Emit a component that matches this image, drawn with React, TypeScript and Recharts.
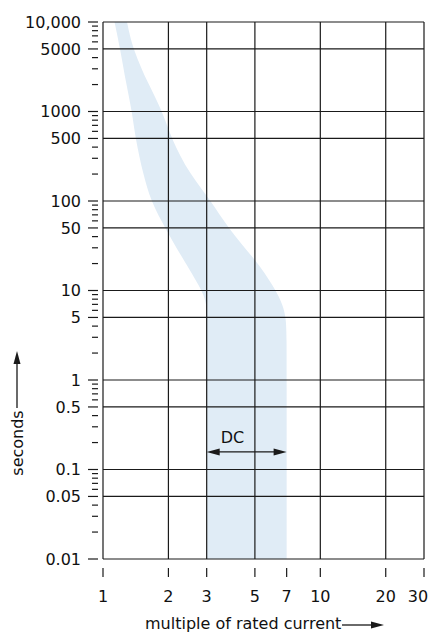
import React from 'react';
import { ComposedChart, Area, XAxis, YAxis, ReferenceLine, ReferenceDot } from 'recharts';

// Trip band: for each time (s), the min and max multiple of rated current
const times = [10000, 5000, 2000, 1000, 500, 200, 100, 50, 20, 10, 7, 5, 3, 1, 0.1, 0.01];
const minCurrent = [1.13, 1.2, 1.28, 1.36, 1.41, 1.53, 1.66, 1.93, 2.4, 2.86, 3, 3, 3, 3, 3, 3];
const maxCurrent = [1.29, 1.37, 1.62, 1.88, 2.06, 2.5, 3.15, 3.75, 5.2, 6.25, 6.7, 6.95, 7, 7, 7, 7];

const xTicks = [1, 2, 3, 5, 7, 10, 20, 30];
const xGrid = [1, 2, 3, 5, 10, 20, 30];
const yMajor = [0.01, 0.05, 0.1, 0.5, 1, 5, 10, 50, 100, 500, 1000, 5000, 10000];
const yMajorLabels = ['0.01', '0.05', '0.1', '0.5', '1', '5', '10', '50', '100', '500', '1000', '5000', '10,000'];
const yMinor = [
  0.02, 0.03, 0.04, 0.06, 0.07, 0.08, 0.09,
  0.2, 0.3, 0.4, 0.6, 0.7, 0.8, 0.9,
  2, 3, 4, 6, 7, 8, 9,
  20, 30, 40, 60, 70, 80, 90,
  200, 300, 400, 600, 700, 800, 900,
  2000, 3000, 4000, 6000, 7000, 8000, 9000,
];

const dcFrom = 3;
const dcTo = 7;
const dcTime = 0.157;
const dcLabelCurrent = 3.94;
const dcLabelTime = 0.228;

const data = times.map((t, i) => ({ t, band: [minCurrent[i], maxCurrent[i]] }));

const FONT = 'DejaVu Sans';
const INK = '#1a1a1a';

const YTick = (props: any) => {
  const { x, y, payload } = props;
  const idx = yMajor.indexOf(payload.value);
  if (idx >= 0) {
    return (
      <g>
        <line x1={x - 15} x2={x - 5} y1={y} y2={y} stroke={INK} strokeWidth={1.2} />
        <text x={x - 22} y={y} dy="0.36em" textAnchor="end" fontSize={16} fontFamily={FONT} fill="#111">
          {yMajorLabels[idx]}
        </text>
      </g>
    );
  }
  return <line x1={x - 11} x2={x - 5} y1={y} y2={y} stroke={INK} strokeWidth={1.2} />;
};

const XTick = (props: any) => {
  const { x, y, payload } = props;
  const isLast = payload.value === xTicks[xTicks.length - 1];
  return (
    <g>
      <line x1={x} x2={x} y1={y + 9} y2={y + 18} stroke={INK} strokeWidth={1.2} />
      <text x={isLast ? x - 6 : x} y={y + 43} textAnchor="middle" fontSize={16} fontFamily={FONT} fill="#111">
        {payload.value}
      </text>
    </g>
  );
};

const XTitle = () => (
  <g>
    <text x={145} y={629} fontSize={16} fontFamily={FONT} fill="#111">
      multiple of rated current
    </text>
    <line x1={342} x2={372} y1={625} y2={625} stroke={INK} strokeWidth={1.3} />
    <polygon points="384,625 371,621.5 371,628.5" fill={INK} />
  </g>
);

const YTitle = () => (
  <g>
    <text x={0} y={0} transform="translate(23,443) rotate(-90)" textAnchor="middle" fontSize={16} fontFamily={FONT} fill="#111">
      seconds
    </text>
    <line x1={17} x2={17} y1={408} y2={362} stroke={INK} strokeWidth={1.3} />
    <polygon points="17,351 13.5,364 20.5,364" fill={INK} />
  </g>
);

const DoubleArrow = (props: any) => {
  const { x1, y1, x2, y2 } = props;
  const y = (y1 + y2) / 2;
  const l = Math.min(x1, x2);
  const r = Math.max(x1, x2);
  return (
    <g>
      <line x1={l + 10} x2={r - 10} y1={y} y2={y} stroke={INK} strokeWidth={1.3} />
      <polygon points={`${l},${y} ${l + 13},${y - 3.5} ${l + 13},${y + 3.5}`} fill={INK} />
      <polygon points={`${r},${y} ${r - 13},${y - 3.5} ${r - 13},${y + 3.5}`} fill={INK} />
    </g>
  );
};

export default function App() {
  return (
    <div style={{ position: 'absolute', left: 0, top: 0, width: 430, height: 636, background: '#fff', fontFamily: FONT }}>
      <ComposedChart
        width={430}
        height={636}
        layout="vertical"
        data={data}
        margin={{ top: 22, right: 6, bottom: 0, left: 0 }}
      >
        <XAxis
          type="number"
          scale="log"
          domain={[1, 30]}
          ticks={xTicks}
          interval={0}
          allowDataOverflow
          axisLine={false}
          tickLine={false}
          tickSize={0}
          tickMargin={0}
          height={77}
          tick={<XTick />}
          label={<XTitle />}
        />
        <YAxis
          type="number"
          dataKey="t"
          scale="log"
          domain={[0.01, 10000]}
          ticks={[...yMajor, ...yMinor]}
          interval={0}
          allowDataOverflow
          reversed
          axisLine={false}
          tickLine={false}
          tickSize={0}
          tickMargin={0}
          width={103}
          tick={<YTick />}
          label={<YTitle />}
        />
        <Area
          dataKey="band"
          type="basis"
          fill="#e0ecf6"
          fillOpacity={1}
          stroke="none"
          isAnimationActive={false}
        />
        {xGrid.map((v) => (
          <ReferenceLine key={`vx${v}`} x={v} stroke={INK} strokeWidth={1.2} />
        ))}
        {yMajor.map((v) => (
          <ReferenceLine key={`hy${v}`} y={v} stroke={INK} strokeWidth={1.2} />
        ))}
        <ReferenceLine
          segment={[{ x: dcFrom, y: dcTime }, { x: dcTo, y: dcTime }]}
          shape={(p: any) => <DoubleArrow {...p} />}
        />
        <ReferenceDot
          x={dcLabelCurrent}
          y={dcLabelTime}
          r={0}
          fill="none"
          stroke="none"
          label={{ value: 'DC', position: 'center', fontSize: 16, fontFamily: FONT, fill: '#111' }}
        />
      </ComposedChart>
    </div>
  );
}
